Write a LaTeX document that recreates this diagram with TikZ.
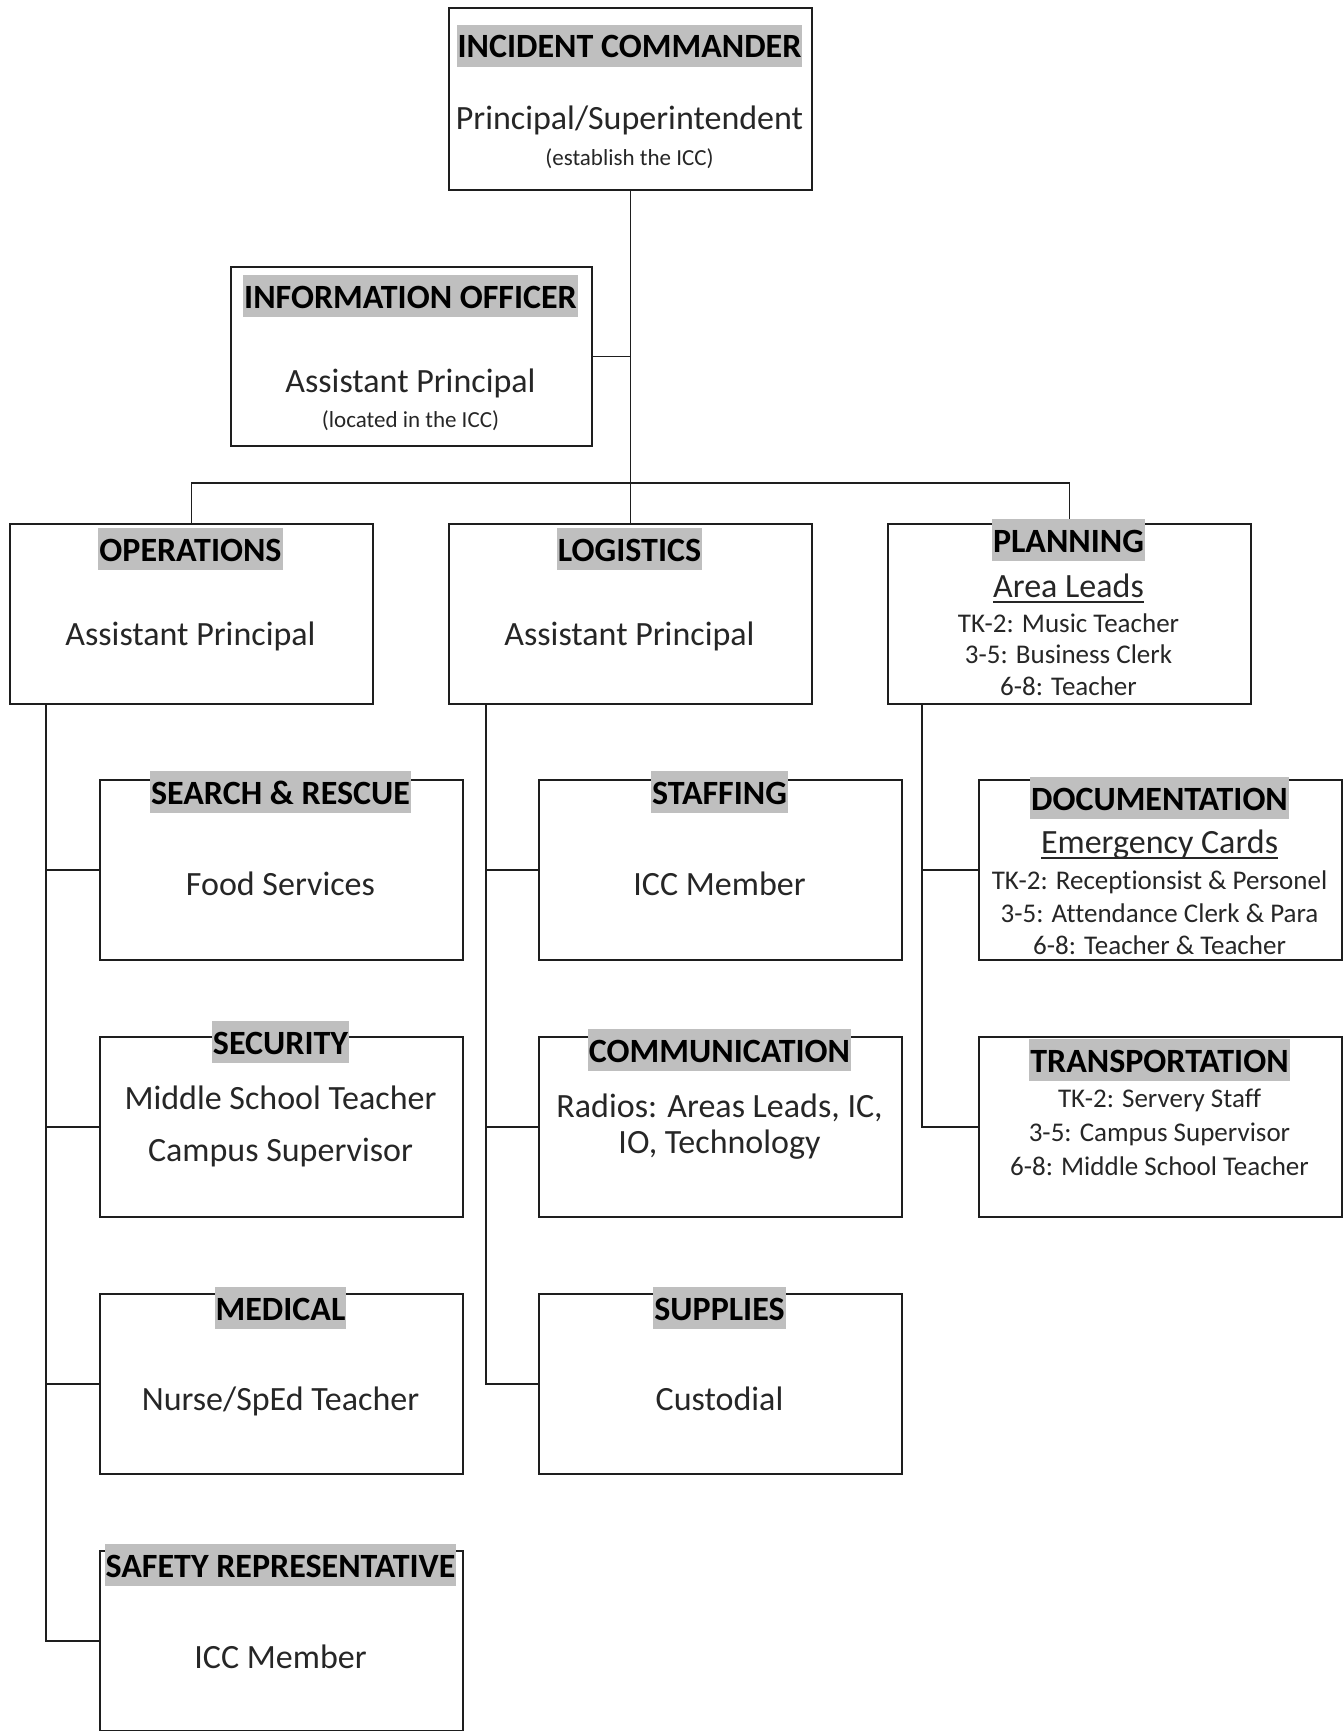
\documentclass[tikz,border=0pt]{standalone}
\usepackage{fontspec}
\setmainfont[Ligatures=CommonOff]{Carlito}
\definecolor{hl}{RGB}{191,191,191}
\definecolor{txt}{RGB}{38,38,38}
\definecolor{ln}{RGB}{30,30,30}
\newcommand{\myul}[1]{{\setbox0\hbox{#1}\rlap{\rule[-6pt]{\wd0}{1.6pt}}\box0}}
\tikzset{
  box/.style={draw=ln,line width=1.8pt,minimum width=363pt,minimum height=180pt,anchor=north west,inner sep=0pt},
  conn/.style={draw=ln,line width=1.8pt},
  ttl/.style={fill=hl,inner xsep=1pt,inner ysep=4pt,text height=29pt,text depth=5pt,anchor=base,font=\fontsize{34}{40}\selectfont\bfseries,text=black},
  body/.style={inner sep=0pt,anchor=base,font=\fontsize{34}{40}\selectfont,text=txt},
  small/.style={inner sep=0pt,anchor=base,font=\fontsize{23}{28}\selectfont,text=txt},
  lst/.style={inner sep=0pt,anchor=base,font=\fontsize{27}{32}\selectfont,text=txt},
}
\begin{document}
\begin{tikzpicture}[x=1pt,y=-1pt]
\useasboundingbox (0,0) rectangle (1343,1731);
\clip (0,0) rectangle (1343,1731);
% boxes
\node[box,minimum height=182pt] (ic) at (448,7) {};
\node[box,minimum width=361pt,minimum height=179pt] (io) at (230,266) {};
\node[box] (ops) at (9,523) {};
\node[box] (log) at (448,523) {};
\node[box] (plan) at (887,523) {};
\node[box] (sr) at (99,779) {};
\node[box] (staff) at (538,779) {};
\node[box] (doc) at (978,779) {};
\node[box] (sec) at (99,1036) {};
\node[box] (comm) at (538,1036) {};
\node[box] (trans) at (978,1036) {};
\node[box] (med) at (99,1293) {};
\node[box] (sup) at (538,1293) {};
\node[box] (safe) at (99,1550) {};
% connectors
\coordinate (bar) at (629.5,483);
\coordinate (opsx) at (46,0);
\coordinate (logx) at (486,0);
\coordinate (planx) at (922,0);
\draw[conn] (ic.south) -- (log.north);
\draw[conn] (io.east) -- (io.east -| ic.south);
\draw[conn] (ops.north) |- (bar) -| (plan.north);
\draw[conn] (ops.south -| opsx) |- (safe.west);
\draw[conn] (opsx |- sr.west) -- (sr.west);
\draw[conn] (opsx |- sec.west) -- (sec.west);
\draw[conn] (opsx |- med.west) -- (med.west);
\draw[conn] (log.south -| logx) |- (sup.west);
\draw[conn] (logx |- staff.west) -- (staff.west);
\draw[conn] (logx |- comm.west) -- (comm.west);
\draw[conn] (plan.south -| planx) |- (trans.west);
\draw[conn] (planx |- doc.west) -- (doc.west);
% texts
\node[ttl] (icT) at (629.5,58) {INCIDENT COMMANDER};
\node[body] (icB) at (629.5,130) {Principal/Superintendent};
\node[small] (icS) at (629.5,166) {(establish the ICC)};
\node[ttl] (ioT) at (410.5,308) {INFORMATION OFFICER};
\node[body] (ioB) at (410.5,392) {Assistant Principal};
\node[small] (ioS) at (410.5,427) {(located in the ICC)};
\node[ttl] (opsT) at (190.5,561) {OPERATIONS};
\node[body] (opsB) at (190.5,645) {Assistant Principal};
\node[ttl] (logT) at (629.5,561) {LOGISTICS};
\node[body] (logB) at (629.5,645) {Assistant Principal};
\node[ttl] (planT) at (1068.5,552) {PLANNING};
\node[body] (planU) at (1068.5,597) {\myul{Area Leads}};
\node[lst] (planL1) at (1068.5,632) {TK-2: Music Teacher};
\node[lst] (planL2) at (1068.5,663) {3-5: Business Clerk};
\node[lst] (planL3) at (1068.5,695) {6-8: Teacher};
\node[ttl] (srT) at (280.5,804) {SEARCH \& RESCUE};
\node[body] (srB) at (280.5,895) {Food Services};
\node[ttl] (staffT) at (719.5,804) {STAFFING};
\node[body] (staffB) at (719.5,895) {ICC Member};
\node[ttl] (docT) at (1159.5,810) {DOCUMENTATION};
\node[body] (docU) at (1159.5,853) {\myul{Emergency Cards}};
\node[lst] (docL1) at (1159.5,889) {TK-2: Receptionsist \& Personel};
\node[lst] (docL2) at (1159.5,922) {3-5: Attendance Clerk \& Para};
\node[lst] (docL3) at (1159.5,954) {6-8: Teacher \& Teacher};
\node[ttl] (secT) at (280.5,1054) {SECURITY};
\node[body] (secB1) at (280.5,1109) {Middle School Teacher};
\node[body] (secB2) at (280.5,1161) {Campus Supervisor};
\node[ttl] (commT) at (719.5,1062) {COMMUNICATION};
\node[body] (commB1) at (719.5,1117) {Radios: Areas Leads, IC,};
\node[body] (commB2) at (719.5,1153) {IO, Technology};
\node[ttl] (transT) at (1159.5,1072) {TRANSPORTATION};
\node[lst] (transL1) at (1159.5,1107) {TK-2: Servery Staff};
\node[lst] (transL2) at (1159.5,1141) {3-5: Campus Supervisor};
\node[lst] (transL3) at (1159.5,1175) {6-8: Middle School Teacher};
\node[ttl] (medT) at (280.5,1320) {MEDICAL};
\node[body] (medB) at (280.5,1410) {Nurse/SpEd Teacher};
\node[ttl] (supT) at (719.5,1320) {SUPPLIES};
\node[body] (supB) at (719.5,1410) {Custodial};
\node[ttl] (safeT) at (280.5,1577) {SAFETY REPRESENTATIVE};
\node[body] (safeB) at (280.5,1668) {ICC Member};
\end{tikzpicture}
\end{document}
